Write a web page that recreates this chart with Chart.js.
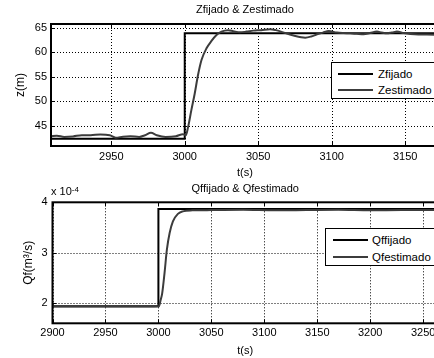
<!DOCTYPE html>
<html><head><meta charset="utf-8">
<script src="https://cdn.jsdelivr.net/npm/chart.js@4"></script>
<style>
html,body{margin:0;padding:0;background:#fff;width:434px;height:358px;overflow:hidden;position:relative;font-family:"Liberation Sans",Arial,sans-serif;color:#000;}
.wrap{position:absolute;left:0;}
.leg{position:absolute;border:1px solid #000;background:#fff;box-sizing:border-box;width:140px;}
.ln{position:absolute;height:0;border-top:2px solid #000;}
.tx{position:absolute;font-size:11.5px;line-height:14px;white-space:nowrap;}
#expo{position:absolute;left:51px;top:185px;font-size:11px;line-height:13px;white-space:nowrap;}
#expo sup{font-size:8px;position:relative;top:-2px;vertical-align:top;}
</style></head>
<body>
<div class="wrap" style="top:0"><canvas id="c1" width="460" height="180" style="width:460px;height:180px"></canvas></div>
<div class="wrap" style="top:176px"><canvas id="c2" width="460" height="182" style="width:460px;height:182px"></canvas></div>
<div class="leg" id="leg1"></div>
<div class="leg" id="leg2"></div>
<div id="expo">x 10<sup>-4</sup></div>
<script>
// ---- Top plot data ----
const zTitle = 'Zfijado & Zestimado';
const zLabels = ['Zfijado', 'Zestimado'];
const zFixT = [2909, 3000, 3000, 3173];
const zFixV = [42.4, 42.4, 63.85, 63.85];
const zEstT = [2909, 2913, 2918, 2924, 2930, 2936, 2942.5, 2949, 2953, 2958, 2963, 2969, 2973, 2977, 2981, 2987, 2994, 2998.8,
  3000.7, 3002.3, 3004.5, 3006.8, 3009, 3011.4, 3014.8, 3018.2, 3021.6, 3025, 3029.5, 3033, 3037.5, 3042, 3046.6, 3052, 3058,
  3062, 3067, 3074, 3082, 3086, 3090, 3094, 3098, 3103.5, 3108, 3112.6, 3117, 3121.7, 3126, 3130.8, 3134, 3137.6, 3141, 3144.4,
  3149, 3153.5, 3159, 3164.8, 3173];
const zEstV = [42.9, 43.0, 42.75, 42.85, 43.1, 43.1, 43.24, 43.1, 42.6, 42.8, 42.9, 42.75, 43.1, 43.6, 43.1, 42.75, 42.9, 43.3,
  43.1, 44.8, 48.2, 51.6, 55.3, 58.4, 60.8, 62.3, 63.5, 64.2, 64.5, 64.3, 64.05, 64.2, 64.4, 64.5, 64.7,
  64.5, 64.05, 63.4, 62.96, 63.2, 63.65, 64.0, 64.3, 64.0, 63.9, 63.85, 63.75, 63.65, 63.9, 64.2, 64.0, 63.85, 64.0, 64.2,
  63.9, 63.7, 63.6, 63.6, 63.5];
const zXTicks = [2950, 3000, 3050, 3100, 3150];
const zYTicks = [45, 50, 55, 60, 65];

// ---- Bottom plot data (values in units of 1e-4 m^3/s) ----
const qTitle = 'Qffijado & Qfestimado';
const qLabels = ['Qffijado', 'Qfestimado'];
const qFixT = [2900, 3000, 3000, 3264];
const qFixV = [1.94, 1.94, 3.865, 3.865];
const qEstT = [2900, 2930, 2960, 2990, 3000.5, 3002, 3003.6, 3005.8, 3008, 3010.6, 3013.7, 3018.4, 3023, 3032, 3050,
  3080, 3110, 3140, 3170, 3200, 3230, 3264];
const qEstV = [1.935, 1.935, 1.935, 1.935, 1.94, 2.05, 2.2, 2.6, 3.06, 3.39, 3.62, 3.77, 3.82, 3.84, 3.845,
  3.85, 3.84, 3.845, 3.85, 3.84, 3.845, 3.845];
const qXTicks = [2900, 2950, 3000, 3050, 3100, 3150, 3200, 3250];
const qYTicks = [2, 3, 4];

Chart.defaults.font.family = '"Liberation Sans", Arial, sans-serif';
Chart.defaults.font.size = 11;
Chart.defaults.color = '#000';

const pts = (t, v) => t.map((x, i) => ({x: x, y: v[i]}));

const gridPlugin = {
  id: 'dottedGrid',
  beforeDatasetsDraw(chart) {
    const {ctx, chartArea: a, scales} = chart;
    ctx.save();
    ctx.strokeStyle = '#000';
    ctx.lineWidth = 1;
    ctx.setLineDash([1, 2]);
    ctx.beginPath();
    scales.x.ticks.forEach(t => {
      const px = Math.round(scales.x.getPixelForValue(t.value)) + 0.5;
      ctx.moveTo(px, a.top); ctx.lineTo(px, a.bottom);
    });
    scales.y.ticks.forEach(t => {
      const py = Math.round(scales.y.getPixelForValue(t.value)) + 0.5;
      ctx.moveTo(a.left, py); ctx.lineTo(a.right, py);
    });
    ctx.stroke();
    ctx.restore();
  },
  afterDraw(chart) {
    const {ctx, chartArea: a, scales} = chart;
    ctx.save();
    ctx.strokeStyle = '#000';
    ctx.lineWidth = 1;
    ctx.beginPath();
    scales.x.ticks.forEach(t => {
      const px = Math.round(scales.x.getPixelForValue(t.value)) + 0.5;
      ctx.moveTo(px, a.bottom); ctx.lineTo(px, a.bottom - 4);
      ctx.moveTo(px, a.top); ctx.lineTo(px, a.top + 4);
    });
    scales.y.ticks.forEach(t => {
      const py = Math.round(scales.y.getPixelForValue(t.value)) + 0.5;
      ctx.moveTo(a.left, py); ctx.lineTo(a.left + 4, py);
    });
    ctx.stroke();
    ctx.lineWidth = 2;
    ctx.strokeRect(a.left, a.top, a.right - a.left, a.bottom - a.top);
    ctx.restore();
  }
};

function makeChart(id, o) {
  return new Chart(document.getElementById(id), {
    type: 'line',
    data: {
      datasets: [
        {label: o.labels[0], data: pts(o.fixT, o.fixV), borderColor: '#000', borderWidth: 2, pointRadius: 0, order: 2, tension: 0},
        {label: o.labels[1], data: pts(o.estT, o.estV), borderColor: '#3c3c3c', borderWidth: 2, pointRadius: 0, order: 1, cubicInterpolationMode: 'monotone'}
      ]
    },
    options: {
      responsive: false, animation: false, devicePixelRatio: 1,
      layout: {padding: {left: 0, right: o.padRight, top: 0, bottom: 0}},
      plugins: {legend: {display: false}, tooltip: {enabled: false}, title: {display: false}},
      scales: {
        x: {
          type: 'linear', position: 'bottom', min: o.xMin, max: o.xMax,
          afterBuildTicks: s => { s.ticks = o.xTicks.map(v => ({value: v})); },
          afterFit: s => { s.height = o.xH; },
          grid: {display: false, drawTicks: false},
          border: {display: false},
          ticks: {padding: o.xTickPad, maxRotation: 0, autoSkip: false, callback: v => String(v)},
          title: {display: true, text: 't(s)', font: {size: 11}, padding: {top: 0, bottom: 0.4}}
        },
        top: {
          type: 'linear', position: 'top', min: o.xMin, max: o.xMax,
          afterFit: s => { s.height = o.topH; },
          grid: {display: false, drawTicks: false},
          border: {display: false},
          ticks: {display: false},
          title: {display: true, text: o.title, font: {size: 11}, padding: {top: o.titlePad, bottom: 0}}
        },
        y: {
          type: 'linear', position: 'left', min: o.yMin, max: o.yMax,
          afterBuildTicks: s => { s.ticks = o.yTicks.map(v => ({value: v})); },
          afterFit: s => { s.width = o.yW; },
          grid: {display: false, drawTicks: false},
          border: {display: false},
          ticks: {padding: o.yTickPad, callback: v => String(v)},
          title: {display: true, text: o.yTitle, font: {size: 12}, padding: {top: o.yTitlePad, bottom: 0}}
        }
      }
    },
    plugins: [gridPlugin]
  });
}

function buildLegend(chart, el, g) {
  el.style.left = g.left + 'px';
  el.style.top = g.top + 'px';
  el.style.height = g.height + 'px';
  chart.data.datasets.forEach((ds, i) => {
    const ln = document.createElement('div');
    ln.className = 'ln';
    ln.style.left = g.lineX + 'px';
    ln.style.width = g.lineW + 'px';
    ln.style.top = (g.rows[i] - 1) + 'px';
    ln.style.borderTopColor = ds.borderColor;
    el.appendChild(ln);
    const tx = document.createElement('div');
    tx.className = 'tx';
    tx.style.left = g.textX + 'px';
    tx.style.top = (g.rows[i] - 7) + 'px';
    tx.textContent = ds.label;
    el.appendChild(tx);
  });
}

const c1 = makeChart('c1', {
  labels: zLabels, fixT: zFixT, fixV: zFixV, estT: zEstT, estV: zEstV,
  xMin: 2909, xMax: 3173, yMin: 40.9, yMax: 65.75, xTicks: zXTicks, yTicks: zYTicks,
  padRight: 21, xH: 34, topH: 24, yW: 51, xTickPad: 4, yTickPad: 4,
  title: zTitle, titlePad: 3.4, yTitle: 'z(m)', yTitlePad: 13.8
});
const c2 = makeChart('c2', {
  labels: qLabels, fixT: qFixT, fixV: qFixV, estT: qEstT, estV: qEstV,
  xMin: 2900, xMax: 3264, yMin: 1.6, yMax: 4, xTicks: qXTicks, yTicks: qYTicks,
  padRight: 22, xH: 34.7, topH: 26.3, yW: 52.5, xTickPad: 3.5, yTickPad: 5,
  title: qTitle, titlePad: 6.4, yTitle: 'Qf(m³/s)', yTitlePad: 21.4
});

buildLegend(c1, document.getElementById('leg1'), {left: 331, top: 62, height: 37, lineX: 6, lineW: 35, textX: 46, rows: [10.5, 26.5]});
buildLegend(c2, document.getElementById('leg2'), {left: 325, top: 228, height: 38, lineX: 7, lineW: 35, textX: 46, rows: [11, 27.5]});
</script>
</body></html>
